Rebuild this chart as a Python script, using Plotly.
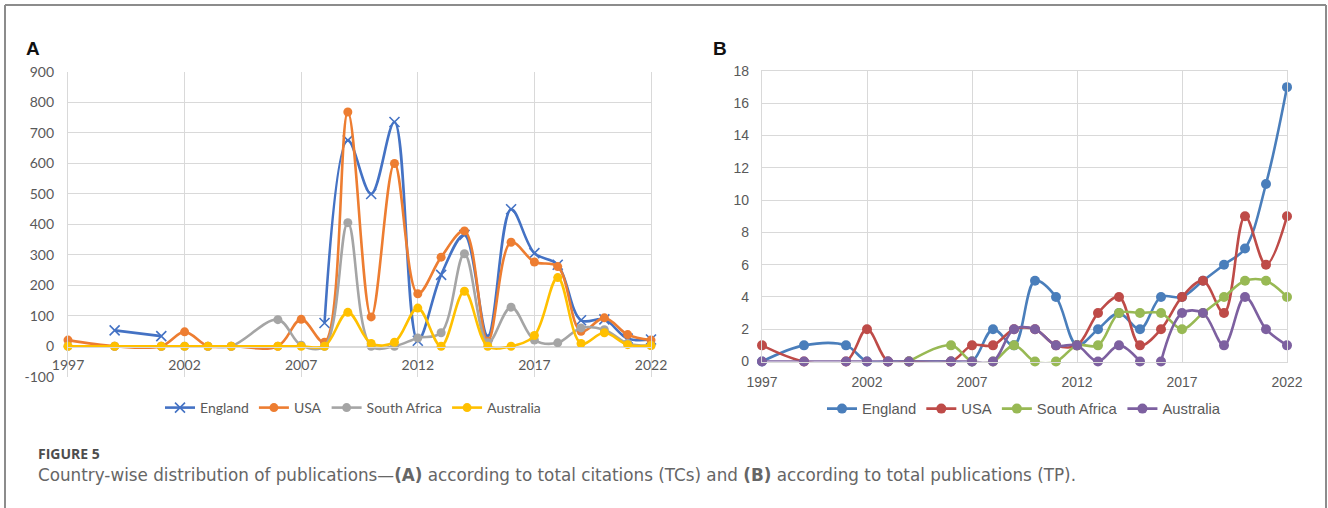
import plotly.graph_objects as go

# ---------------- data ----------------
years = [1997, 1999, 2001, 2002, 2003, 2004, 2006, 2007, 2008, 2009, 2010, 2011,
         2012, 2013, 2014, 2015, 2016, 2017, 2018, 2019, 2020, 2021, 2022]
countries = ["England", "USA", "South Africa", "Australia"]

# Panel A: total citations (TCs)
tc_england = [None, 52, 33, None, None, None, None, None, 76, 675, 499, 735,
              18, 234, 365, 33, 449, 305, 267, 85, 88, 25, 22]
tc_usa = [20, 0, 0, 47, 0, 0, 0, 88, 13, 768, 96, 599,
          172, 292, 378, 16, 341, 276, 261, 49, 93, 38, 20]
tc_south_africa = [0, 0, 0, 0, 0, 0, 87, 3, 0, 405, 0, 0,
                   27, 44, 303, 11, 128, 20, 11, 60, 54, 9, 2]
tc_australia = [0, 0, 0, 0, 0, 0, 0, 0, 0, 111, 9, 13,
                125, 0, 180, 0, 0, 35, 225, 9, 44, 5, 2]

# Panel B: total publications (TP)
tp_england = [0, 1, 1, 0, 0, 0, 0, 0, 2, 1, 5, 4, 1, 2, 3, 2, 4, 4, 5, 6, 7, 11, 17]
tp_usa = [1, 0, 0, 2, 0, 0, 0, 1, 1, 2, 2, 1, 1, 3, 4, 1, 2, 4, 5, 3, 9, 6, 9]
tp_south_africa = [None, None, None, None, None, 0, 1, 0, 0, 1, 0, 0,
                   1, 1, 3, 3, 3, 2, 3, 4, 5, 5, 4]
tp_australia = [0, 0, 0, 0, 0, 0, 0, 0, 0, 2, 2, 1, 1, 0, 1, 0, 0, 3, 3, 1, 4, 2, 1]
tp_australia_break_after = 2015  # the source line is not drawn between 2015 and 2016

x_ticks = [1997, 2002, 2007, 2012, 2017, 2022]
tc_ticks = list(range(-100, 1000, 100))
tc_tick_text = [str(v) for v in tc_ticks]  # plain hyphen for "-100"
tp_ticks = list(range(0, 20, 2))

caption_label = "FIGURE 5"
caption_text = ("Country-wise distribution of publications\u2014<b>(A)</b> according to total "
                "citations (TCs) and <b>(B)</b> according to total publications (TP).")

# ---------------- style ----------------
W, H = 1328, 508
colors_a = ["#4472C4", "#ED7D31", "#A5A5A5", "#FFC000"]
colors_b = ["#4A7EBB", "#BE4B48", "#98B954", "#7D60A0"]
grid = "#D9D9D9"
tick_col = "#595959"
font_a = "Lato, 'Open Sans', sans-serif"
font_b = "'Liberation Sans', Arial, sans-serif"


def py(px_from_top):
    return (H - px_from_top) / H


def px(x):
    return x / W


fig = go.Figure()

# Panel A traces
tc_series = [tc_england, tc_usa, tc_south_africa, tc_australia]
for i, (name, vals) in enumerate(zip(countries, tc_series)):
    if i == 0:
        marker = dict(symbol="x-thin", size=10, color=colors_a[i],
                      line=dict(width=1.6, color=colors_a[i]))
    else:
        marker = dict(symbol="circle", size=9, color=colors_a[i])
    fig.add_trace(go.Scatter(
        x=years, y=vals, name=name, mode="lines+markers",
        line=dict(color=colors_a[i], width=2.6, shape="spline", smoothing=1.0),
        marker=marker, xaxis="x", yaxis="y", legend="legend",
        cliponaxis=False, connectgaps=False,
    ))

# Panel B traces
tp_series = [tp_england, tp_usa, tp_south_africa, tp_australia]
for i, (name, vals) in enumerate(zip(countries, tp_series)):
    if name == "Australia":
        cut = years.index(tp_australia_break_after) + 1
        parts = [(years[:cut], vals[:cut], True), (years[cut:], vals[cut:], False)]
    else:
        parts = [(years, vals, True)]
    for xs, ys, show in parts:
        fig.add_trace(go.Scatter(
            x=xs, y=ys, name=name, mode="lines+markers", showlegend=show,
            line=dict(color=colors_b[i], width=2.6, shape="spline", smoothing=1.0),
            marker=dict(symbol="circle", size=10, color=colors_b[i]),
            xaxis="x2", yaxis="y2", legend="legend2",
            cliponaxis=False, connectgaps=False, legendgroup=name,
        ))

# ---------------- layout ----------------
a_left, a_right, a_top, a_bottom, a_zero = 68, 651, 71.7, 376.7, 346.7
b_left, b_right, b_top, b_bottom = 762, 1287, 71, 361.5

common = dict(showgrid=True, gridcolor=grid, gridwidth=1.3, zeroline=False,
              showline=True, linecolor=grid, linewidth=1.3, ticks="",
              automargin=False, fixedrange=True, tickmode="array")

fig.update_layout(
    template="none",
    width=W, height=H,
    margin=dict(l=0, r=0, t=0, b=0, pad=0, autoexpand=False),
    paper_bgcolor="white", plot_bgcolor="white",
    xaxis=dict(
        common,
        domain=[px(a_left), px(a_right)], range=[1997, 2022],
        tickvals=x_ticks, ticktext=[str(t) for t in x_ticks],
        anchor="free", position=py(a_zero),
        ticklabelstandoff=5,
        tickfont=dict(family=font_a, size=14, color=tick_col),
    ),
    yaxis=dict(
        common,
        domain=[py(a_bottom), py(a_top)], range=[-100, 900],
        tickvals=tc_ticks, ticktext=tc_tick_text, mirror=True, ticklabelstandoff=10,
        tickfont=dict(family=font_a, size=14, color=tick_col),
        anchor="x",
    ),
    xaxis2=dict(
        common,
        domain=[px(b_left), px(b_right)], range=[1997, 2022],
        tickvals=x_ticks, ticktext=[str(t) for t in x_ticks],
        mirror=True, ticklabelstandoff=8,
        tickfont=dict(family=font_b, size=14, color=tick_col),
        anchor="y2",
    ),
    yaxis2=dict(
        common,
        domain=[py(b_bottom), py(b_top)], range=[0, 18],
        tickvals=tp_ticks, mirror=True, ticklabelstandoff=9,
        tickfont=dict(family=font_b, size=14, color=tick_col),
        anchor="x2",
    ),
    legend=dict(
        orientation="h", x=px(353), xanchor="center", y=py(408), yanchor="middle",
        font=dict(family=font_a, size=14, color=tick_col),
        bgcolor="rgba(0,0,0,0)", itemwidth=30, traceorder="normal",
    ),
    legend2=dict(
        orientation="h", x=px(1024), xanchor="center", y=py(409), yanchor="middle",
        font=dict(family=font_b, size=14.8, color=tick_col),
        bgcolor="rgba(0,0,0,0)", itemwidth=30, traceorder="normal",
    ),
    showlegend=True,
)

# frame around the figure
frame = dict(color="#8C8C8C", width=2)
fig.add_shape(type="line", xref="paper", yref="paper", x0=px(5), x1=px(5), y0=-0.05, y1=py(5), line=frame)
fig.add_shape(type="line", xref="paper", yref="paper", x0=px(5), x1=px(1326), y0=py(5), y1=py(5), line=frame)
fig.add_shape(type="line", xref="paper", yref="paper", x0=px(1326), x1=px(1326), y0=-0.05, y1=py(5), line=frame)

# panel letters and caption
fig.add_annotation(text="<b>A</b>", xref="paper", yref="paper", x=px(24), y=py(48),
                   xanchor="left", yanchor="middle", showarrow=False,
                   font=dict(family="'Liberation Sans', Arial, sans-serif", size=19, color="#111111"))
fig.add_annotation(text="<b>B</b>", xref="paper", yref="paper", x=px(711), y=py(48),
                   xanchor="left", yanchor="middle", showarrow=False,
                   font=dict(family="'Liberation Sans', Arial, sans-serif", size=19, color="#111111"))
fig.add_annotation(text="<b>" + caption_label + "</b>", xref="paper", yref="paper",
                   x=px(36), y=py(453), xanchor="left", yanchor="middle", showarrow=False,
                   font=dict(family="'Open Sans', sans-serif", size=14, color="#4D4D4D"))
fig.add_annotation(text=caption_text, xref="paper", yref="paper",
                   x=px(36), y=py(475), xanchor="left", yanchor="middle", showarrow=False,
                   font=dict(family="'DejaVu Sans', sans-serif", size=16.8, color="#666666"))

fig.write_html("out.html", post_script="document.body.style.margin='0px';",
               config={"displayModeBar": False})
